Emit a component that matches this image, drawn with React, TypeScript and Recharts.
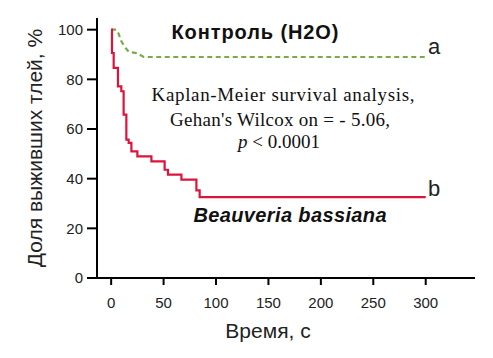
import React from 'react';
import { LineChart, Line, XAxis, YAxis } from 'recharts';

// Control (H2O) survival curve, % alive vs time (s)
const controlTime = [0, 5, 7, 9.5, 13, 17, 25, 31, 300];
const controlSurv = [100, 100, 98.5, 95.5, 93, 91, 90.5, 89, 89];

// Beauveria bassiana survival curve (step)
const beauvTime = [0, 0.8, 2.4, 6.5, 9.7, 11.9, 14.5, 16.7, 19.3, 25, 38.4, 51, 54.2, 67, 81.3, 84.4, 300];
const beauvSurv = [100, 90.6, 84.6, 77.2, 75.2, 65.8, 55.7, 54.4, 51, 49, 47, 43.6, 41.6, 39.6, 35.3, 32.6, 32.6];

const xTicks = [0, 50, 100, 150, 200, 250, 300];
const yTicks = [0, 20, 40, 60, 80, 100];

const controlData = controlTime.map((t, i) => ({ t, v: controlSurv[i] }));
const beauvData = beauvTime.map((t, i) => ({ t, v: beauvSurv[i] }));

const SANS = '"Liberation Sans", Arial, sans-serif';
const SERIF = '"Liberation Serif", "Times New Roman", serif';

export default function App() {
  return (
    <div style={{ position: 'absolute', left: 0, top: 0, width: 493, height: 358, background: '#fff' }}>
      <LineChart width={493} height={358} margin={{ top: 18, right: 18, left: 0, bottom: 0 }}>
        <XAxis
          type="number"
          dataKey="t"
          domain={[-13.5, 347]}
          allowDataOverflow
          ticks={xTicks}
          height={80}
          tickSize={7}
          tickMargin={12}
          axisLine={{ stroke: '#000', strokeWidth: 2 }}
          tickLine={{ stroke: '#000', strokeWidth: 2 }}
          tick={{ fill: '#222', fontSize: 15, fontFamily: SANS }}
        />
        <YAxis
          type="number"
          domain={[0, 104.7]}
          allowDataOverflow
          ticks={yTicks}
          width={97}
          tickSize={10}
          tickMargin={4}
          axisLine={{ stroke: '#000', strokeWidth: 2 }}
          tickLine={{ stroke: '#000', strokeWidth: 2 }}
          tick={{ fill: '#222', fontSize: 15, fontFamily: SANS }}
        />
        <Line
          data={controlData}
          dataKey="v"
          type="linear"
          stroke="#7aac46"
          strokeWidth={2.2}
          strokeDasharray="5 3.5"
          dot={false}
          isAnimationActive={false}
        />
        <Line
          data={beauvData}
          dataKey="v"
          type="stepAfter"
          stroke="#dc143c"
          strokeWidth={2.2}
          dot={false}
          isAnimationActive={false}
        />
      </LineChart>
      <svg
        width={493}
        height={358}
        style={{ position: 'absolute', left: 0, top: 0, pointerEvents: 'none' }}
      >
        <text x={42} y={148} transform="rotate(-90 42 148)" textAnchor="middle" fontFamily={SANS} fontSize={21} fill="#222">
          Доля выживших тлей, %
        </text>
        <text x={268} y={338} textAnchor="middle" fontFamily={SANS} fontSize={21} fill="#222">
          Время, с
        </text>
        <text x={255} y={39} textAnchor="middle" fontFamily={SANS} fontSize={20} fontWeight="bold" fill="#111" textLength={167}>
          Контроль (H2O)
        </text>
        <text x={428} y={54} fontFamily={SANS} fontSize={22} fill="#222">a</text>
        <text x={428} y={196} fontFamily={SANS} fontSize={22} fill="#222">b</text>
        <text x={283} y={101} textAnchor="middle" fontFamily={SERIF} fontSize={19} fill="#111" textLength={263}>
          Kaplan-Meier survival analysis,
        </text>
        <text x={280} y={126} textAnchor="middle" fontFamily={SERIF} fontSize={19} fill="#111" textLength={220}>
          Gehan's Wilcox on = - 5.06,
        </text>
        <text x={279} y={148} textAnchor="middle" fontFamily={SERIF} fontSize={19} fill="#111">
          <tspan fontStyle="italic">p</tspan> &lt; 0.0001
        </text>
        <text x={290} y={222} textAnchor="middle" fontFamily={SANS} fontSize={20} fontWeight="bold" fontStyle="italic" fill="#111" textLength={193}>
          Beauveria bassiana
        </text>
      </svg>
    </div>
  );
}
